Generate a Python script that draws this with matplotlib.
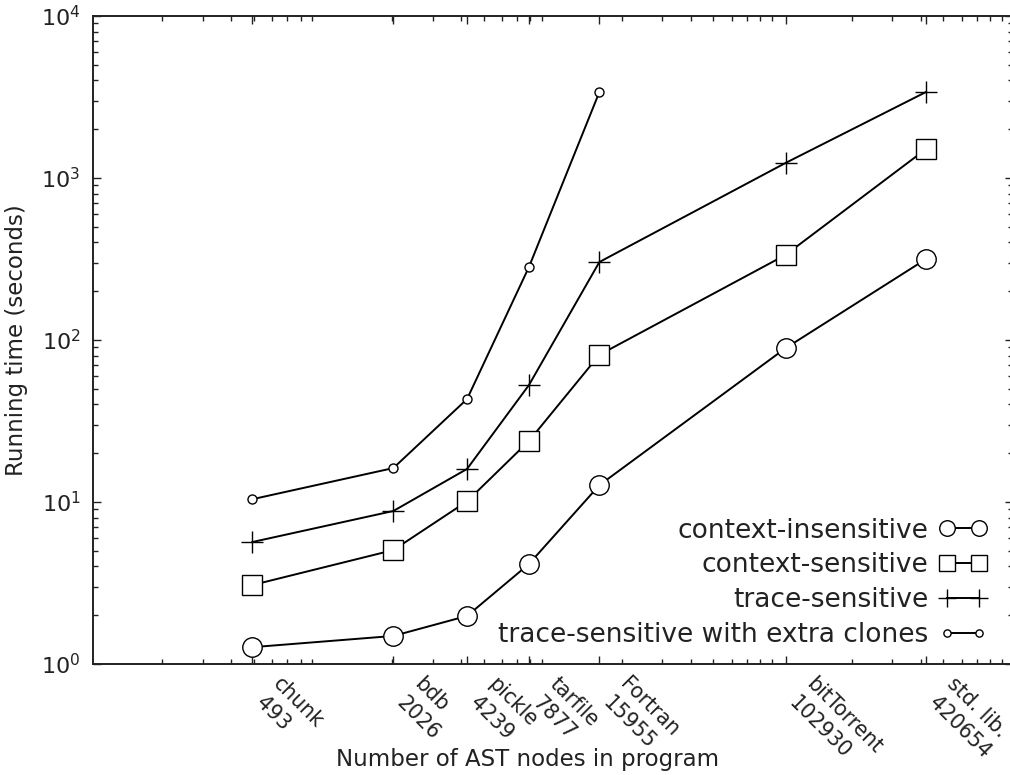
import numpy as np
import matplotlib
matplotlib.use("Agg")
import matplotlib.pyplot as plt
import matplotlib.transforms as mtransforms
from matplotlib.ticker import LogLocator, NullFormatter

plt.rcParams['font.family'] = ['DejaVu Sans']
plt.rcParams['mathtext.default'] = 'regular'

# benchmark programs and their AST node counts
programs = ["chunk", "bdb", "pickle", "tarfile", "Fortran", "bitTorrent", "std. lib."]
nodes = [493, 2026, 4239, 7877, 15955, 102930, 420654]

# running times in seconds
ctx_insensitive = [1.27, 1.49, 1.98, 4.14, 12.7, 89, 316]
ctx_sensitive = [3.07, 5.05, 10.1, 23.8, 81, 335, 1510]
trace_sensitive = [5.66, 8.8, 16.0, 52.7, 303, 1238, 3396]
trace_clones = [10.4, 16.2, 43.2, 282, 3396]

ink = '#222222'

fig = plt.figure(figsize=(10.1, 7.75), dpi=100)
ax = fig.add_axes([93/1010, 1 - 664/775, (1012.5 - 93)/1010, (664 - 16)/775])

big = dict(color='black', lw=1.4, mfc='white', mec='black', mew=1.0)
ax.plot(nodes, ctx_insensitive, marker='o', ms=14, label='context-insensitive', **big)
ax.plot(nodes, ctx_sensitive, marker='s', ms=14, label='context-sensitive', **big)
ax.plot(nodes, trace_sensitive, marker='+', ms=16, label='trace-sensitive', **big)
ax.plot(nodes[:len(trace_clones)], trace_clones, marker='o', ms=6.5,
        label='trace-sensitive with extra clones', **big)

ax.set_xscale('log')
ax.set_yscale('log')
ax.set_xlim(100, 1e6)
ax.set_ylim(1, 1e4)

# ticks sit at each program size; name and size go underneath, slanted,
# one text per line so each line can be nudged on its own
ax.set_xticks(nodes)
ax.set_xticklabels([])
ax.xaxis.set_minor_locator(LogLocator(base=10, subs=np.arange(2, 10)))
ax.xaxis.set_minor_formatter(NullFormatter())
base = mtransforms.blended_transform_factory(ax.transData, ax.transAxes)
name_shift = mtransforms.ScaledTranslation(17.2/72, -12.4/72, fig.dpi_scale_trans)
size_shift = mtransforms.ScaledTranslation(4.8/72, -25.8/72, fig.dpi_scale_trans)
for p, n in zip(programs, nodes):
    for txt, sh in ((p, name_shift), (str(n), size_shift)):
        ax.text(n, 0, txt, transform=base + sh, rotation=-45,
                ha='left', va='center', rotation_mode='anchor',
                fontsize=14.8, color=ink)

ax.set_yticks([1, 10, 100, 1000, 10000])
ax.set_yticklabels([r'$10^{%d}$' % k for k in range(5)])
ax.yaxis.set_minor_locator(LogLocator(base=10, subs=np.arange(2, 10)))
ax.yaxis.set_minor_formatter(NullFormatter())

ax.tick_params(which='both', direction='in', top=True, right=True,
               colors=ink, labelcolor=ink, width=1.0)
ax.tick_params(which='major', length=6)
ax.tick_params(which='minor', length=3.5)
ax.tick_params(axis='y', which='major', labelsize=16, pad=9)

for s in ax.spines.values():
    s.set_color(ink)
    s.set_linewidth(1.4)

ax.set_xlabel('Number of AST nodes in program', fontsize=16.5, color=ink)
ax.xaxis.set_label_coords(0.473, -0.129)
ax.set_ylabel('Running time (seconds)', fontsize=16.5, color=ink)
ax.yaxis.set_label_coords(-0.071, 0.5)

leg = ax.legend(loc='lower right', bbox_to_anchor=(1000/1010, 1 - 661/775),
                bbox_transform=fig.transFigure, frameon=False, markerfirst=False,
                numpoints=2, handlelength=1.82, handletextpad=0.4,
                labelspacing=0.33, fontsize=19, borderpad=0, markerscale=0.8)
for t in leg.get_texts():
    t.set_color(ink)

fig.savefig('out.png', dpi=100)
